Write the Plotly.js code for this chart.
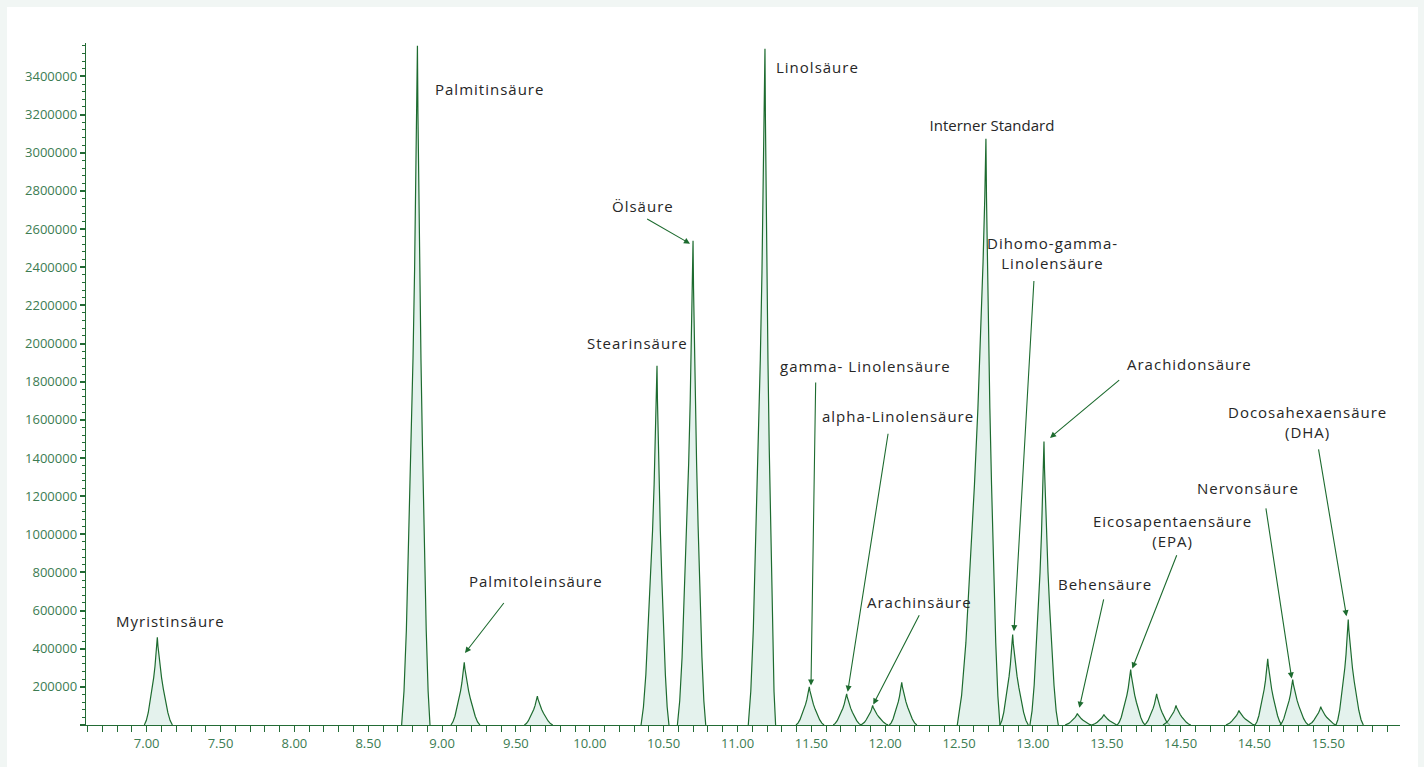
<!DOCTYPE html>
<html>
<head>
<meta charset="utf-8">
<script src="https://cdn.plot.ly/plotly-3.0.1.min.js"></script>
<style>
  html, body { margin: 0; padding: 0; background: #f1f6f4; width: 1424px; height: 767px; overflow: hidden; }
  #chart { position: absolute; left: 7px; top: 7px; width: 1411px; height: 760px; background: #ffffff; }
  .annotation-text { letter-spacing: 1px; }
</style>
</head>
<body>
<div id="chart"></div>
<script>
// ---- data ----
const peakCenters = [7.072, 8.833, 9.150, 9.645, 10.455, 10.699, 11.186, 11.486, 11.739, 11.915, 12.112, 12.682,
                     12.863, 13.075, 13.301, 13.481, 13.662, 13.838, 13.969, 14.395, 14.590, 14.759, 14.949, 15.135];
const peakHeights = [460000, 3561000, 329000, 151000, 1884000, 2539000, 3545000, 200000, 163500, 102000, 224000, 3074000,
                     474000, 1486000, 60000, 55000, 291000, 163500, 102000, 76000, 347000, 238500, 95400, 553000];
const peakLeftWidths  = [0.088, 0.107, 0.090, 0.088, 0.108, 0.106, 0.113, 0.090, 0.091, 0.079, 0.084, 0.194,
                         0.086, 0.095, 0.083, 0.083, 0.091, 0.084, 0.088, 0.088, 0.086, 0.086, 0.084, 0.083];
const peakRightWidths = [0.102, 0.085, 0.106, 0.104, 0.081, 0.086, 0.072, 0.100, 0.097, 0.106, 0.102, 0.095,
                         0.106, 0.097, 0.097, 0.095, 0.097, 0.090, 0.100, 0.108, 0.095, 0.106, 0.104, 0.102];
// shared peak profile (distance from apex as fraction of half width -> fraction of height)
const profileDist   = [0, 0.04, 0.10, 0.18, 0.28, 0.40, 0.55, 0.70, 0.85, 1.00];
const profileHeight = [1, 0.90, 0.79, 0.67, 0.54, 0.41, 0.27, 0.14, 0.05, 0.00];

const xTickVals  = [7, 7.5, 8, 8.5, 9, 9.5, 10, 10.5, 11, 11.5, 12, 12.5, 13, 13.5, 14, 14.5, 15];
const xTickText  = ["7.00","7.50","8.00","8.50","9.00","9.50","10.00","10.50","11.00","11.50","12.00","12.50","13.00","13.50","14.50","14.50","15.50"];
const yTickVals  = [0, 200000, 400000, 600000, 800000, 1000000, 1200000, 1400000, 1600000, 1800000, 2000000, 2200000, 2400000, 2600000, 2800000, 3000000, 3200000, 3400000];
const yTickText  = ["", "200000", "400000", "600000", "800000", "1000000", "1200000", "1400000", "1600000", "1800000", "2000000", "2200000", "2400000", "2600000", "2800000", "3000000", "3200000", "3400000"];

// ---- styling ----
const LINE = '#1d6b2f';
const FILL = 'rgba(206,231,222,0.55)';
const TICKCOL = '#3c7c52';
const AXCOL = '#236b35';
const TEXTCOL = '#262626';

const traces = peakCenters.map((c, i) => {
  const xs = [], ys = [];
  for (let k = profileDist.length - 1; k >= 1; k--) { xs.push(c - profileDist[k] * peakLeftWidths[i]); ys.push(peakHeights[i] * profileHeight[k]); }
  for (let k = 0; k < profileDist.length; k++) { xs.push(c + profileDist[k] * peakRightWidths[i]); ys.push(peakHeights[i] * profileHeight[k]); }
  return { x: xs, y: ys, type: 'scatter', mode: 'lines', fill: 'tozeroy', fillcolor: FILL,
           line: { color: LINE, width: 1.2 }, hoverinfo: 'skip', showlegend: false };
});

// page pixel -> data helpers for annotation placement
const X = px => 7 + (px - 146.7) / 147.7;
const Y = py => (725.5 - py) / 38.16 * 200000;

const labels = [
  ["Myristinsäure", 170.5, 621.5],
  ["Palmitinsäure", 489, 89],
  ["Palmitoleinsäure", 535.5, 581.5],
  ["Stearinsäure", 637, 343.5],
  ["Ölsäure", 642.5, 206.5],
  ["Linolsäure", 817, 67.5],
  ["gamma- Linolensäure", 865, 366.5],
  ["alpha-Linolensäure", 898, 416.5],
  ["Arachinsäure", 919, 602.5],
  ["Interner Standard", 992, 125.5],
  ["Dihomo-gamma-<br>Linolensäure", 1052, 253.5],
  ["Arachidonsäure", 1189, 364.5],
  ["Behensäure", 1105, 584.5],
  ["Eicosapentaensäure<br>(EPA)", 1172.5, 531.5],
  ["Nervonsäure", 1248, 488.5],
  ["Docosahexaensäure<br>(DHA)", 1307, 422.5]
];
// arrows: [tailX, tailY, headX, headY] in page pixels
const arrows = [
  [505, 602, 465, 653.5],
  [645.7, 218.5, 690, 244],
  [815.7, 381.5, 811, 686],
  [888.3, 432.7, 847.7, 692.3],
  [920, 614.3, 873.3, 705],
  [1034, 280, 1014, 631.7],
  [1120.7, 379.3, 1050, 438.3],
  [1104, 598.3, 1079.3, 708.3],
  [1177.3, 554.3, 1132.3, 669],
  [1265.7, 507.3, 1291.7, 679],
  [1318.3, 448.3, 1346.5, 616.7]
];

const annotations = labels.map(l => ({
  text: l[0], x: X(l[1]), y: Y(l[2]), xref: 'x', yref: 'y', showarrow: false,
  xanchor: 'center', yanchor: 'middle', font: { family: 'Open Sans', size: 15, color: TEXTCOL }
})).concat(arrows.map(a => ({
  text: '', x: X(a[2]), y: Y(a[3]), xref: 'x', yref: 'y', showarrow: true,
  ax: a[0] - a[2], ay: a[1] - a[3], arrowhead: 2, arrowsize: 1.1, arrowwidth: 1.1, arrowcolor: LINE, standoff: 0
})));

const layout = {
  width: 1411, height: 760,
  margin: { l: 79, r: 18, t: 36.3, b: 41.5 },
  paper_bgcolor: '#ffffff', plot_bgcolor: '#ffffff',
  font: { family: 'Open Sans', size: 13, color: TICKCOL },
  showlegend: false,
  xaxis: {
    range: [X(86), X(1400)], showgrid: false, zeroline: false,
    showline: true, linecolor: AXCOL, linewidth: 1.3,
    tickmode: 'array', tickvals: xTickVals, ticktext: xTickText,
    ticks: 'outside', ticklen: 6, tickwidth: 1, tickcolor: AXCOL,
    tickfont: { family: 'Open Sans', size: 13, color: TICKCOL },
    minor: { tick0: 6.7, dtick: 0.1, ticks: 'outside', ticklen: 6, tickwidth: 1, tickcolor: AXCOL, showgrid: false }
  },
  yaxis: {
    range: [0, Y(43.3)], showgrid: false, zeroline: false,
    showline: true, linecolor: AXCOL, linewidth: 1.3,
    tickmode: 'array', tickvals: yTickVals, ticktext: yTickText,
    ticks: 'outside', ticklen: 5, tickwidth: 2, tickcolor: AXCOL,
    tickfont: { family: 'Open Sans', size: 13, color: TICKCOL },
    minor: { tick0: 0, dtick: 40000, ticks: 'outside', ticklen: 3, tickwidth: 1, tickcolor: AXCOL, showgrid: false }
  },
  annotations: annotations
};

Plotly.newPlot('chart', traces, layout, { displayModeBar: false, staticPlot: true }).then(gd => {
  gd.querySelectorAll('.annotation-text').forEach(t => {
    if (t.textContent === 'Interner Standard') t.style.letterSpacing = '0px';
  });
});
</script>
</body>
</html>
